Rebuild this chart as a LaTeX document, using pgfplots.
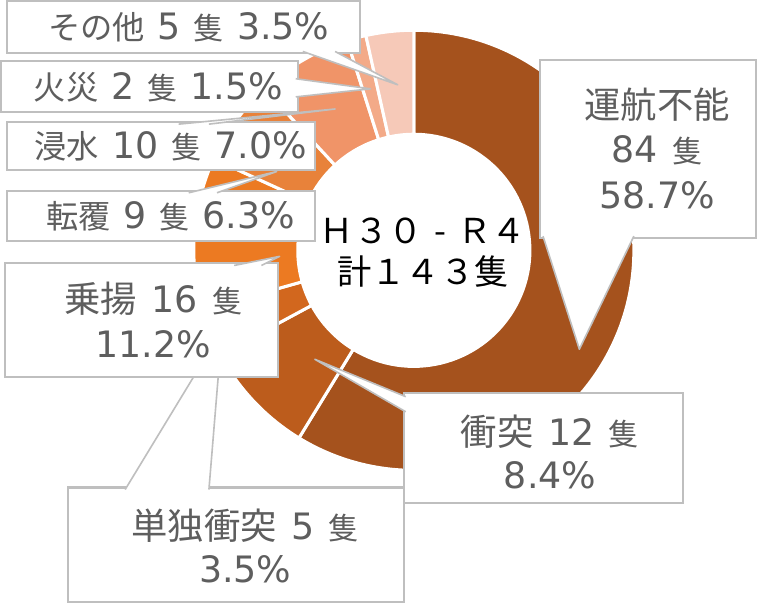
\documentclass[border=0pt]{standalone}
\usepackage{pgfplots}
\pgfplotsset{compat=1.18}
\usepackage{pgfplotstable}
\usetikzlibrary{calc}
\usepackage{fontspec}
\setmainfont{Noto Sans CJK JP}
\newfontfamily\lat{DejaVu Sans}

% slice colours, clockwise from 12 o'clock
\definecolor{s0}{HTML}{A5521D}
\definecolor{s1}{HTML}{BC5C1C}
\definecolor{s2}{HTML}{D2671E}
\definecolor{s3}{HTML}{EC7A22}
\definecolor{s4}{HTML}{E8823A}
\definecolor{s5}{HTML}{F09468}
\definecolor{s6}{HTML}{F3AA88}
\definecolor{s7}{HTML}{F6C9B8}
\definecolor{edge}{HTML}{BFBFBF}
\definecolor{txt}{HTML}{5E5E5E}

% ships per category: 運航不能, 衝突, 単独衝突, 乗揚, 転覆, 浸水, 火災, その他
\pgfplotstableread{
n
84
12
5
16
9
10
2
5
}\counts

\newcommand\cx{423}
\newcommand\cy{252}
\newcommand\ro{109pt}
\newcommand\ri{57.5pt}

\def\total{0}%
\foreach \i in {0,...,7}{%
  \pgfplotstablegetelem{\i}{n}\of\counts
  \pgfmathsetmacro\tmpsum{\total+\pgfplotsretval}%
  \xdef\total{\tmpsum}%
}%
\def\acc{0}%
\foreach \i in {0,...,7}{%
  \pgfplotstablegetelem{\i}{n}\of\counts
  \pgfmathsetmacro\angA{90-360*(\acc/\total)}%
  \pgfmathsetmacro\tmpsum{\acc+\pgfplotsretval}%
  \pgfmathsetmacro\angB{90-360*(\tmpsum/\total)}%
  \expandafter\xdef\csname angS\i\endcsname{\angA}%
  \expandafter\xdef\csname angE\i\endcsname{\angB}%
  \xdef\acc{\tmpsum}%
}%

\newcommand\lab{\fontsize{18}{22}\selectfont}
\newcommand\sm{\fontsize{16}{22}\selectfont}
\newcommand\dg[1]{{\lat\fontsize{18}{22}\selectfont #1}}
\newcommand\gap{\hspace{0.4em}}
\newcommand\ship{{\fontsize{15}{15}\selectfont 隻}}
\newcommand\lbox[4]{\filldraw[fill=white, draw=edge, line width=1pt] (axis cs:#1,#2) rectangle (axis cs:#3,#4);}
% pointer: base A, base B, tip
\newcommand\ptr[6]{%
  \fill[white] (axis cs:#1,#2) -- (axis cs:#5,#6) -- (axis cs:#3,#4) -- cycle;
  \draw[edge, line width=0.8pt, line join=round] (axis cs:#1,#2) -- (axis cs:#5,#6) -- (axis cs:#3,#4);}

\begin{document}
\begin{tikzpicture}
\begin{axis}[
  x=0.5pt, y=0.5pt,
  xmin=0, xmax=757, ymin=0, ymax=593,
  y dir=reverse,
  hide axis,
  clip=false,
]
% donut
\pgfplotsforeachungrouped \i in {0,...,7}{%
  \edef\sA{\csname angS\i\endcsname}%
  \edef\sB{\csname angE\i\endcsname}%
  \edef\temp{\noexpand\fill[s\i, draw=white, line width=1.5pt]
    ($(axis cs:\cx,\cy)+(\sA:\ro)$) arc[start angle=\sA, end angle=\sB, radius=\ro]
    -- ($(axis cs:\cx,\cy)+(\sB:\ri)$) arc[start angle=\sB, end angle=\sA, radius=\ri] -- cycle;}%
  \temp
}

% centre text
\node[font=\fontsize{17}{20}\selectfont] at (axis cs:432,233) {Ｈ３０\makebox[1em]{-}Ｒ４};
\node[font=\fontsize{17}{20}\selectfont] at (axis cs:432,273) {計１４３隻};

% callouts
\lbox{548}{63}{762}{240}
\ptr{551}{238}{641}{238}{587}{350}
\node[txt, font=\lab] at (axis cs:664,108) {運航不能};
\node[txt, font=\lab] at (axis cs:664,153) {\dg{84}\gap\ship};
\node[txt, font=\lab] at (axis cs:664,197) {\dg{58.7\%}};

\lbox{413}{393}{690}{502}
\ptr{415}{397}{415}{412}{325}{360}
\node[txt, font=\lab] at (axis cs:558,432) {衝突\gap\dg{12}\gap\ship};
\node[txt, font=\lab] at (axis cs:558,475) {\dg{8.4\%}};

\lbox{80}{487}{413}{600}
\ptr{137}{489}{220}{489}{233}{331}
\node[txt, font=\lab] at (axis cs:256,525) {単独衝突\gap\dg{5}\gap\ship};
\node[txt, font=\lab] at (axis cs:256,568) {\dg{3.5\%}};

\lbox{18}{265}{288}{378}
\ptr{245}{267}{272}{267}{290}{258}
\node[txt, font=\lab] at (axis cs:165,300) {乗揚\gap\dg{16}\gap\ship};
\node[txt, font=\lab] at (axis cs:165,345) {\dg{11.2\%}};

\lbox{20}{193}{325}{243}
\ptr{200}{195}{228}{195}{287}{174}
\node[txt, font=\sm] at (axis cs:182,218) {転覆\gap\dg{9}\gap\ship\gap\dg{6.3\%}};

\lbox{20}{125}{325}{172}
\ptr{190}{127}{220}{127}{345}{112}
\node[txt, font=\sm] at (axis cs:182,149) {浸水\gap\dg{10}\gap\ship\gap\dg{7.0\%}};

\lbox{14}{64}{308}{115}
\ptr{306}{82}{306}{100}{380}{92}
\node[txt, font=\sm] at (axis cs:170,90) {火災\gap\dg{2}\gap\ship\gap\dg{1.5\%}};

\lbox{20}{5}{370}{57}
\ptr{313}{55}{345}{55}{407}{88}
\node[txt, font=\sm] at (axis cs:200,31) {その他\gap\dg{5}\gap\ship\gap\dg{3.5\%}};
\end{axis}
\end{tikzpicture}
\end{document}
